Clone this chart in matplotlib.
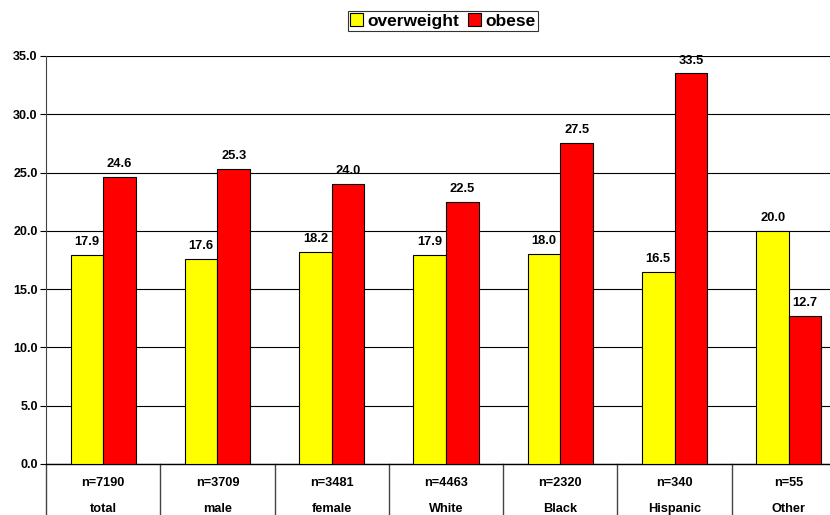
import numpy as np
import matplotlib.pyplot as plt
from matplotlib.transforms import blended_transform_factory

plt.rcParams['font.family'] = ['Liberation Sans', 'DejaVu Sans']
plt.rcParams['font.weight'] = 'bold'

groups = ['total', 'male', 'female', 'White', 'Black', 'Hispanic', 'Other']
counts = ['n=7190', 'n=3709', 'n=3481', 'n=4463', 'n=2320', 'n=340', 'n=55']
overweight = [17.9, 17.6, 18.2, 17.9, 18.0, 16.5, 20.0]
obese = [24.6, 25.3, 24.0, 22.5, 27.5, 33.5, 12.7]

fig = plt.figure(figsize=(8.3, 5.15), dpi=100)
ax = fig.add_axes([46/830, 51/515, 800/830, 408/515])

x = np.arange(len(groups))
w = 0.285
b1 = ax.bar(x - w/2, overweight, w, color='#ffff00', edgecolor='black', linewidth=0.8, zorder=3, label='overweight')
b2 = ax.bar(x + w/2, obese, w, color='#ff0000', edgecolor='black', linewidth=0.8, zorder=3, label='obese')

for bars, vals in ((b1, overweight), (b2, obese)):
    for r, v in zip(bars, vals):
        ax.annotate('%.1f' % v, (r.get_x() + r.get_width()/2, v), xytext=(0, 5),
                    textcoords='offset points', ha='center', va='bottom',
                    fontsize=9.3, fontweight='bold')

ax.set_xlim(-0.5, len(groups) - 0.5)
ax.set_ylim(0, 35)
ax.set_yticks(np.arange(0, 36, 5))
ax.set_yticklabels(['%.1f' % t for t in np.arange(0, 36, 5)], fontsize=9, fontweight='bold')
ax.yaxis.grid(True, color='black', linewidth=0.8, zorder=0)
ax.tick_params(axis='y', length=4, width=0.8, pad=2)
ax.set_xticks([])
for s in ('top', 'right'):
    ax.spines[s].set_visible(False)
ax.spines['left'].set_color('#444444')
ax.spines['bottom'].set_linewidth(1)

# table-like category separators below the axis
tr = blended_transform_factory(ax.transData, ax.transAxes)
for i in range(len(groups) + 1):
    ax.plot([i - 0.5, i - 0.5], [0, -0.2], transform=tr, color='#444444',
            linewidth=1, clip_on=False)
for i in range(len(groups)):
    ax.text(i, -0.047, counts[i], transform=tr, ha='center', va='center',
            fontsize=9.2, fontweight='bold')
    ax.text(i, -0.11, groups[i], transform=tr, ha='center', va='center',
            fontsize=9.2, fontweight='bold')

leg = fig.legend(handles=[b1, b2], loc='center', bbox_to_anchor=(443/830, 1 - 21/515),
                 ncol=2, frameon=True, fancybox=False, edgecolor='black',
                 prop={'size': 12.5, 'weight': 'bold'}, handlelength=0.75,
                 handleheight=0.75, handletextpad=0.25, columnspacing=0.5,
                 borderpad=0.15, borderaxespad=0)
leg.get_frame().set_linewidth(0.8)

fig.savefig('out.png')
